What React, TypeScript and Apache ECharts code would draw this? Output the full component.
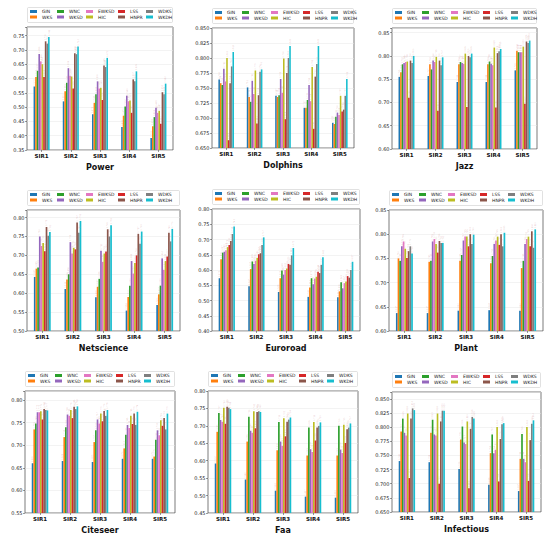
import React, { useEffect, useRef } from "react";
import * as echarts from "echarts";

const categories = ["SIR1", "SIR2", "SIR3", "SIR4", "SIR5"];
const methods = ["GIN", "WKS", "WNC", "WKSD", "EWKSD", "HIC", "LSS", "HNPR", "WDKS", "WKDH"];
const colors = ["#1f77b4", "#ff7f0e", "#2ca02c", "#9467bd", "#e377c2", "#bcbd22", "#d62728", "#8c564b", "#7f7f7f", "#17becf"];
const legendColumns = [["GIN", "WKS"], ["WNC", "WKSD"], ["EWKSD", "HIC"], ["LSS", "HNPR"], ["WDKS", "WKDH"]];

// each row = one SIR category, values in the order of `methods`
const power = [
  [0.572, 0.605, 0.627, 0.686, 0.660, 0.650, 0.605, 0.730, 0.722, 0.745],
  [0.520, 0.555, 0.585, 0.636, 0.610, 0.607, 0.565, 0.688, 0.685, 0.712],
  [0.475, 0.515, 0.545, 0.590, 0.565, 0.568, 0.525, 0.645, 0.640, 0.672],
  [0.430, 0.470, 0.502, 0.540, 0.520, 0.523, 0.480, 0.597, 0.590, 0.625],
  [0.392, 0.433, 0.465, 0.498, 0.480, 0.487, 0.442, 0.552, 0.545, 0.582],
];
const dolphins = [
  [0.764, 0.758, 0.755, 0.782, 0.761, 0.800, 0.663, 0.758, 0.786, 0.810],
  [0.751, 0.735, 0.727, 0.762, 0.740, 0.779, 0.691, 0.738, 0.777, 0.781],
  [0.737, 0.735, 0.738, 0.765, 0.742, 0.799, 0.698, 0.775, 0.800, 0.820],
  [0.717, 0.717, 0.730, 0.755, 0.728, 0.785, 0.682, 0.769, 0.790, 0.820],
  [0.692, 0.690, 0.702, 0.709, 0.705, 0.737, 0.711, 0.714, 0.737, 0.765],
];
const jazz = [
  [0.755, 0.765, 0.782, 0.785, 0.787, 0.788, 0.710, 0.790, 0.785, 0.800],
  [0.757, 0.782, 0.771, 0.790, 0.787, 0.798, 0.682, 0.790, 0.780, 0.797],
  [0.744, 0.782, 0.787, 0.785, 0.783, 0.805, 0.690, 0.800, 0.797, 0.805],
  [0.744, 0.782, 0.788, 0.783, 0.780, 0.818, 0.689, 0.806, 0.810, 0.815],
  [0.769, 0.811, 0.808, 0.808, 0.808, 0.820, 0.697, 0.831, 0.828, 0.833],
];
const netscience = [
  [0.643, 0.665, 0.668, 0.750, 0.725, 0.733, 0.711, 0.775, 0.752, 0.762],
  [0.611, 0.636, 0.650, 0.735, 0.705, 0.720, 0.716, 0.787, 0.760, 0.791],
  [0.589, 0.617, 0.638, 0.712, 0.683, 0.705, 0.710, 0.769, 0.750, 0.780],
  [0.554, 0.590, 0.620, 0.685, 0.652, 0.680, 0.700, 0.757, 0.731, 0.763],
  [0.569, 0.597, 0.620, 0.692, 0.662, 0.685, 0.697, 0.760, 0.737, 0.770],
];
const euroroad = [
  [0.573, 0.635, 0.657, 0.660, 0.665, 0.675, 0.682, 0.695, 0.718, 0.743],
  [0.547, 0.603, 0.628, 0.620, 0.630, 0.640, 0.652, 0.655, 0.682, 0.707],
  [0.528, 0.573, 0.598, 0.585, 0.600, 0.605, 0.620, 0.617, 0.648, 0.672],
  [0.512, 0.543, 0.573, 0.553, 0.572, 0.578, 0.594, 0.590, 0.617, 0.642],
  [0.511, 0.530, 0.560, 0.540, 0.557, 0.562, 0.580, 0.575, 0.600, 0.627],
];
const plant = [
  [0.637, 0.750, 0.745, 0.775, 0.785, 0.770, 0.751, 0.765, 0.775, 0.760],
  [0.637, 0.743, 0.745, 0.785, 0.790, 0.780, 0.762, 0.786, 0.782, 0.782],
  [0.642, 0.745, 0.757, 0.787, 0.795, 0.795, 0.775, 0.800, 0.780, 0.799],
  [0.643, 0.740, 0.755, 0.780, 0.787, 0.795, 0.778, 0.800, 0.775, 0.803],
  [0.642, 0.730, 0.745, 0.780, 0.790, 0.795, 0.775, 0.806, 0.772, 0.810],
];
const citeseer = [
  [0.660, 0.735, 0.748, 0.773, 0.773, 0.775, 0.757, 0.780, 0.778, 0.777],
  [0.665, 0.718, 0.740, 0.768, 0.765, 0.778, 0.760, 0.785, 0.780, 0.786],
  [0.663, 0.707, 0.733, 0.757, 0.748, 0.770, 0.753, 0.776, 0.765, 0.778],
  [0.670, 0.693, 0.723, 0.745, 0.738, 0.765, 0.747, 0.770, 0.745, 0.774],
  [0.670, 0.675, 0.712, 0.733, 0.722, 0.755, 0.743, 0.760, 0.735, 0.770],
];
const faa = [
  [0.592, 0.683, 0.737, 0.717, 0.712, 0.752, 0.706, 0.755, 0.752, 0.748],
  [0.546, 0.655, 0.726, 0.686, 0.680, 0.742, 0.693, 0.740, 0.742, 0.740],
  [0.514, 0.630, 0.711, 0.655, 0.643, 0.722, 0.670, 0.712, 0.718, 0.724],
  [0.497, 0.615, 0.695, 0.633, 0.625, 0.711, 0.658, 0.695, 0.700, 0.710],
  [0.494, 0.615, 0.700, 0.632, 0.622, 0.703, 0.651, 0.690, 0.695, 0.707],
];
const infectious = [
  [0.740, 0.792, 0.815, 0.790, 0.785, 0.824, 0.710, 0.815, 0.833, 0.830],
  [0.738, 0.790, 0.813, 0.787, 0.785, 0.824, 0.700, 0.810, 0.829, 0.829],
  [0.726, 0.778, 0.801, 0.773, 0.770, 0.810, 0.692, 0.797, 0.818, 0.815],
  [0.698, 0.754, 0.787, 0.754, 0.760, 0.800, 0.704, 0.779, 0.805, 0.807],
  [0.687, 0.744, 0.788, 0.744, 0.738, 0.800, 0.705, 0.777, 0.806, 0.812],
];

const panels = [
  { title: "Power", values: power, min: 0.35, max: 0.78, interval: 0.05, dec: 2 },
  { title: "Dolphins", values: dolphins, min: 0.65, max: 0.85, interval: 0.025, dec: 3 },
  { title: "Jazz", values: jazz, min: 0.6, max: 0.86, interval: 0.05, dec: 2 },
  { title: "Netscience", values: netscience, min: 0.5, max: 0.82, interval: 0.05, dec: 2 },
  { title: "Euroroad", values: euroroad, min: 0.4, max: 0.8, interval: 0.05, dec: 2 },
  { title: "Plant", values: plant, min: 0.6, max: 0.85, interval: 0.05, dec: 2 },
  { title: "Citeseer", values: citeseer, min: 0.55, max: 0.82, interval: 0.05, dec: 2 },
  { title: "Faa", values: faa, min: 0.45, max: 0.8, interval: 0.05, dec: 2 },
  { title: "Infectious", values: infectious, min: 0.65, max: 0.862, interval: 0.025, dec: 3 },
];

// plot rectangles (left, top, right, bottom) in pixels
const rects = [
  [27, 27, 173, 150], [212, 28, 354, 148], [392, 28, 537, 149],
  [27, 210, 180, 331], [212, 209, 360, 331], [389, 210, 543, 331],
  [25, 391, 175, 513], [208, 391, 358, 513], [392, 392, 541, 512],
];
const legendColOffsets = [3, 30, 59, 91, 119];

const FONT = "DejaVu Sans";

function buildOption() {
  const grid: any[] = [];
  const xAxis: any[] = [];
  const yAxis: any[] = [];
  const series: any[] = [];
  const legend: any[] = [];
  const graphic: any[] = [];

  panels.forEach((p, i) => {
    const [l, t, r, b] = rects[i];
    grid.push({
      left: l, top: t, width: r - l, height: b - t,
      show: true, borderColor: "#444", borderWidth: 0.7, backgroundColor: "#fff",
    });
    xAxis.push({
      type: "category", gridIndex: i, data: categories,
      axisLine: { show: false },
      axisTick: { show: true, alignWithLabel: true, length: 2, lineStyle: { color: "#333", width: 0.5 } },
      axisLabel: { fontSize: 5.5, fontWeight: "bold", color: "#111", margin: 3, fontFamily: FONT },
      name: p.title, nameLocation: "middle", nameGap: 13,
      nameTextStyle: { fontSize: 8, fontWeight: "bold", color: "#111", fontFamily: FONT },
    });
    yAxis.push({
      type: "value", gridIndex: i, min: p.min, max: p.max, interval: p.interval,
      axisLine: { show: false },
      axisTick: { show: true, length: 2, lineStyle: { color: "#333", width: 0.5 } },
      splitLine: { show: true, lineStyle: { color: "#e6e6e6", width: 0.5 } },
      axisLabel: {
        fontSize: 5, color: "#222", margin: 2.5, fontFamily: FONT,
        formatter: (v: number) => {
          const k = (v - p.min) / p.interval;
          return Math.abs(k - Math.round(k)) < 1e-6 ? v.toFixed(p.dec) : "";
        },
      },
    });
    methods.forEach((m, j) => {
      series.push({
        type: "bar", name: m, xAxisIndex: i, yAxisIndex: i,
        data: p.values.map((row) => row[j]),
        itemStyle: { color: colors[j] },
        barGap: "0%", barCategoryGap: "45%",
        label: {
          show: true, position: "top", rotate: 90, align: "left", verticalAlign: "middle",
          distance: 1, fontSize: 2.2, color: "rgba(200,120,130,0.55)", fontFamily: FONT,
          formatter: (d: any) => Number(d.value).toFixed(3),
        },
        labelLayout: { hideOverlap: false },
      });
    });
    graphic.push({
      type: "rect", z: 0,
      shape: { x: l + 0.5, y: t - 19.5, width: r - l - 1, height: 15, r: 1 },
      style: { fill: "#fff", stroke: "#cccccc", lineWidth: 0.6 },
    });
    legendColumns.forEach((col, c) => {
      col.forEach((name, rr) => {
        legend.push({
          data: [name], left: l + legendColOffsets[c], top: t - 18 + rr * 5.5,
          itemWidth: 7, itemHeight: 3, itemGap: 0, padding: 0, icon: "rect",
          selectedMode: false,
          textStyle: { fontSize: 4.5, color: "#222", fontFamily: FONT },
        });
      });
    });
  });

  return { animation: false, backgroundColor: "#fff", grid, xAxis, yAxis, series, legend, graphic };
}

export default function App() {
  const ref = useRef<HTMLDivElement>(null);
  useEffect(() => {
    if (!ref.current) return;
    const chart = echarts.init(ref.current, undefined, { renderer: "svg" });
    chart.setOption(buildOption() as any);
    return () => chart.dispose();
  }, []);
  return (
    <div
      ref={ref}
      style={{ position: "fixed", left: 0, top: 0, width: 550, height: 537, background: "#fff" }}
    />
  );
}
